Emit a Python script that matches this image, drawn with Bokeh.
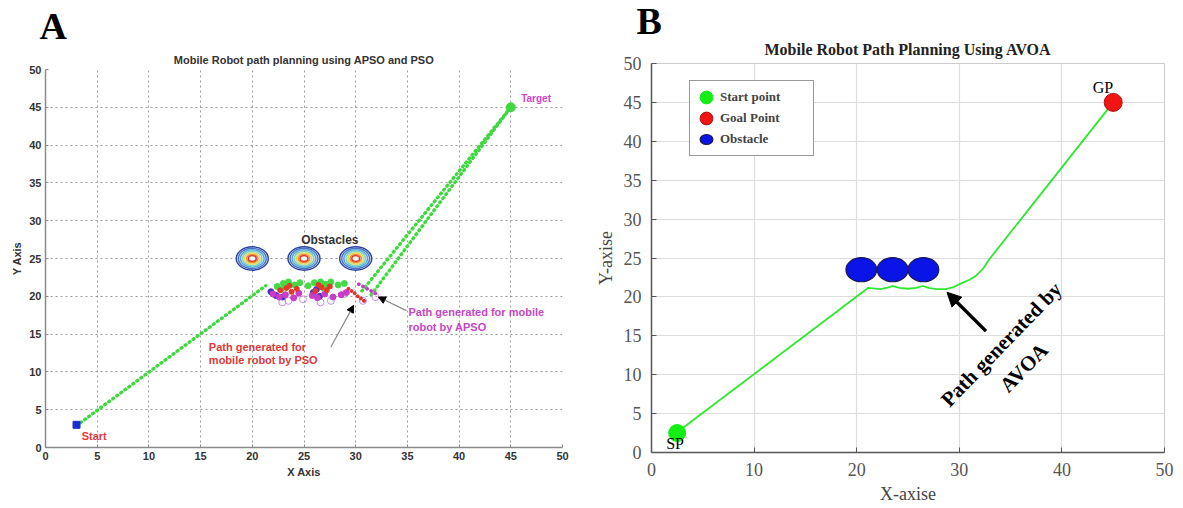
from bokeh.plotting import figure
from bokeh.layouts import row, column
from bokeh.models import Range1d, FixedTicker, Label, Arrow, NormalHead, Legend, LegendItem, Title
from bokeh.embed import file_html
from bokeh.resources import INLINE

FA = "Liberation Sans"
FB = "Liberation Serif"

# ---------------- Panel A data ----------------
a_ticks = [0, 5, 10, 15, 20, 25, 30, 35, 40, 45, 50]
a_start_x, a_start_y = [3.0], [3.0]
a_target_x, a_target_y = [45.0], [45.0]
a_path_low_x = [3.4, 21.3]
a_path_low_y = [3.3, 21.4]
a_path_up1_x = [30.6, 45.0]
a_path_up1_y = [20.7, 45.0]
a_path_up2_x = [31.5, 45.0]
a_path_up2_y = [20.2, 45.0]
a_obst_x = [20.0, 25.0, 30.0]
a_obst_y = [25.0, 25.0, 25.0]
a_contour_r = [1.55, 1.35, 1.15, 0.95, 0.75, 0.55, 0.38]
a_contour_colors = ["#2b3f9e", "#4a6fc4", "#4fa9dc", "#7fd3b8", "#e6d84a", "#f0902e", "#e0321e"]
green_px = [22.4, 23.0, 23.5, 24.1, 24.6, 25.4, 26.0, 26.6, 27.1, 27.6, 28.3, 28.9, 22.8, 26.9]
green_py = [21.3, 21.7, 21.9, 21.5, 21.8, 21.4, 21.8, 21.9, 21.6, 21.9, 21.5, 21.7, 20.9, 21.1]
red_px = [22.7, 23.3, 23.8, 24.3, 26.1, 26.7, 27.2, 23.6, 26.4, 27.5]
red_py = [20.8, 21.1, 20.6, 21.0, 20.7, 21.2, 20.8, 21.4, 21.5, 21.3]
mag_px = [22.0, 22.6, 23.2, 24.0, 24.5, 25.8, 26.3, 27.0, 27.8, 28.6, 29.1]
mag_py = [20.3, 19.9, 20.2, 19.8, 20.4, 20.1, 19.8, 20.3, 19.9, 20.2, 20.5]
blue_px = [21.8, 22.3, 22.9, 25.9, 26.5, 26.2]
blue_py = [20.6, 20.1, 19.9, 20.5, 20.0, 20.9]
lav_px = [23.5, 24.9, 27.6, 28.9, 30.7, 31.9, 22.9, 26.6]
lav_py = [19.4, 19.6, 19.4, 20.3, 19.4, 19.9, 19.2, 19.2]
pso_x = [29.3, 29.6, 29.9, 30.2, 30.5, 30.8]
pso_y = [21.0, 20.7, 20.4, 20.0, 19.7, 19.4]
apso_x = [30.3, 30.7, 31.1, 31.5, 31.9]
apso_y = [21.6, 21.3, 21.0, 20.7, 20.4]

# ---------------- Panel B data ----------------
b_xticks = [0, 10, 20, 30, 40, 50]
b_yticks = [0, 5, 10, 15, 20, 25, 30, 35, 40, 45, 50]
b_path_x = [2.5, 21.1, 21.6, 22.3, 23.0, 23.5, 24.2, 25.0, 25.8, 26.45, 27.0, 27.8, 28.7, 29.5, 30.3, 31.0, 31.6, 32.3, 32.9, 45.0]
b_path_y = [2.6, 21.15, 21.1, 21.0, 21.2, 21.4, 21.15, 21.05, 21.15, 21.4, 21.15, 21.0, 21.0, 21.3, 21.8, 22.2, 22.7, 23.6, 24.8, 45.0]
b_start_x, b_start_y = [2.5], [2.5]
b_goal_x, b_goal_y = [45.0], [45.0]
b_obst_x = [20.45, 23.5, 26.5]
b_obst_y = [23.5, 23.5, 23.5]
b_obst_w = [3.0, 3.0, 3.0]
b_obst_h = [3.1, 3.1, 3.1]

# ================= Panel A =================
pA = figure(width=592, height=506, x_range=Range1d(0, 50), y_range=Range1d(0, 50),
            output_backend="svg", toolbar_location=None, title=None,
            min_border_left=45, min_border_right=30, min_border_top=69, min_border_bottom=59)
pA.outline_line_color = None
pA.background_fill_color = "white"
pA.add_layout(Title(text="Mobile Robot path planning using APSO and PSO", align="center",
                    standoff=7, text_font=FA, text_font_size="11px", text_font_style="bold",
                    text_color="#333333"), "above")
pA.add_layout(Title(text="A", align="left", offset=-6, standoff=3, text_font=FB,
                    text_font_size="38px", text_font_style="bold", text_color="black"), "above")
for ax, lab_t in ((pA.xaxis, "X Axis"), (pA.yaxis, "Y Axis")):
    ax.ticker = FixedTicker(ticks=a_ticks)
    ax.axis_label = lab_t
    ax.axis_label_text_font = FA
    ax.axis_label_text_font_size = "11px"
    ax.axis_label_text_font_style = "bold"
    ax.axis_label_text_color = "#333333"
    ax.axis_label_standoff = 3
    ax.major_label_text_font = FA
    ax.major_label_text_font_size = "11px"
    ax.major_label_text_font_style = "bold"
    ax.major_label_text_color = "#333333"
    ax.major_label_standoff = 4
    ax.axis_line_color = "#8a8a8a"
    ax.axis_line_width = 1.5
    ax.major_tick_in = 3
    ax.major_tick_out = 0
    ax.major_tick_line_color = "#8a8a8a"
    ax.minor_tick_line_color = None
for g in (pA.xgrid, pA.ygrid):
    g.ticker = FixedTicker(ticks=a_ticks)
    g.grid_line_color = "#9a9a9a"
    g.grid_line_dash = "2 3"
    g.grid_line_width = 1

# obstacles (contour rings)
for r, c in zip(a_contour_r, a_contour_colors):
    pA.ellipse(x=a_obst_x, y=a_obst_y, width=2 * r, height=2 * r,
               fill_color="#e6ecf8" if r == a_contour_r[0] else None,
               line_color=c, line_width=1.4)
pA.ellipse(x=a_obst_x, y=a_obst_y, width=0.35, height=0.35, fill_color="white", line_color=None)

# green dotted paths
for xs, ys in ((a_path_low_x, a_path_low_y), (a_path_up1_x, a_path_up1_y), (a_path_up2_x, a_path_up2_y)):
    pA.line(xs, ys, line_color="#3fd83f", line_width=3.4, line_dash="1 4", line_cap="round")

# particle clutter
pA.scatter(lav_px, lav_py, size=7, fill_color=None, line_color="#c890e0", line_width=1)
pA.scatter(blue_px, blue_py, size=6, fill_color="#4b2fc8", line_color="#4b2fc8")
pA.scatter(mag_px, mag_py, size=6, fill_color="#c83cc8", line_color="#c83cc8")
pA.scatter(green_px, green_py, size=6, fill_color="#46d846", line_color="#46d846")
pA.scatter(red_px, red_py, size=5, fill_color="#e23a26", line_color="#e23a26")
pA.scatter(pso_x, pso_y, size=3, fill_color="#e03030", line_color="#e03030")
pA.scatter(apso_x, apso_y, size=3, fill_color="#c040c0", line_color="#c040c0")

# start / target
pA.scatter(a_start_x, a_start_y, marker="square", size=7, fill_color="#1a2fd0", line_color="#1a2fd0")
pA.scatter(a_target_x, a_target_y, size=9, fill_color="#3fd83f", line_color="#3fd83f")

def lab(p, x, y, t, color, font, size, style="bold", align="left", baseline="middle", angle=0):
    p.add_layout(Label(x=x, y=y, text=t, text_color=color, text_font=font, text_font_size=size,
                       text_font_style=style, text_align=align, text_baseline=baseline,
                       angle=angle, angle_units="deg"))

lab(pA, 27.5, 27.4, "Obstacles", "#333333", FA, "12px", align="center")
lab(pA, 3.5, 1.5, "Start", "#e03a3a", FA, "11px")
lab(pA, 46.0, 46.2, "Target", "#cc44cc", FA, "10px")
lab(pA, 15.8, 13.3, "Path generated for", "#d83a3a", FA, "11px")
lab(pA, 15.8, 11.6, "mobile robot by PSO", "#d83a3a", FA, "11px")
lab(pA, 35.1, 17.9, "Path generated for mobile", "#c448c4", FA, "11px")
lab(pA, 35.1, 16.0, "robot by APSO", "#c448c4", FA, "11px")

pA.add_layout(Arrow(end=NormalHead(size=7, fill_color="black", line_color="black"),
                    x_start=27.6, y_start=13.3, x_end=29.8, y_end=18.8,
                    line_color="#8a8a8a", line_width=1.2))
pA.add_layout(Arrow(end=NormalHead(size=7, fill_color="black", line_color="black"),
                    x_start=34.9, y_start=18.1, x_end=32.2, y_end=19.9,
                    line_color="#8a8a8a", line_width=1.2))

# ================= Panel B =================
pB = figure(width=591, height=506, x_range=Range1d(0, 50), y_range=Range1d(0, 50),
            output_backend="svg", toolbar_location=None, title=None,
            min_border_left=54, min_border_right=19, min_border_top=63, min_border_bottom=52)
pB.outline_line_color = "#cccccc"
pB.add_layout(Title(text="Mobile Robot Path Planning Using AVOA", align="center",
                    standoff=11, text_font=FB, text_font_size="16px", text_font_style="bold",
                    text_color="#222222"), "above")
pB.add_layout(Title(text="B", align="left", offset=-15, standoff=-16, text_font=FB,
                    text_font_size="38px", text_font_style="bold", text_color="black"), "above")
pB.xaxis.ticker = FixedTicker(ticks=b_xticks)
pB.yaxis.ticker = FixedTicker(ticks=b_yticks)
pB.xgrid.ticker = FixedTicker(ticks=b_xticks)
pB.ygrid.ticker = FixedTicker(ticks=b_yticks)
for ax, lab_t in ((pB.xaxis, "X-axise"), (pB.yaxis, "Y-axise")):
    ax.axis_label = lab_t
    ax.axis_label_text_font = FB
    ax.axis_label_text_font_size = "18px"
    ax.axis_label_text_font_style = "normal"
    ax.axis_label_text_color = "#444444"
    ax.axis_label_standoff = 5
    ax.major_label_text_font = FB
    ax.major_label_text_font_size = "18px"
    ax.major_label_text_color = "#555555"
    ax.major_label_standoff = 10
    ax.axis_line_color = "#555555"
    ax.axis_line_width = 1.5
    ax.major_tick_in = 5
    ax.major_tick_out = 0
    ax.major_tick_line_color = "#555555"
    ax.minor_tick_line_color = None
for g in (pB.xgrid, pB.ygrid):
    g.grid_line_color = "#dddddd"
    g.grid_line_width = 1.2

pB.line(b_path_x, b_path_y, line_color="#2ee82e", line_width=1.8)
r_obst = pB.ellipse(x=b_obst_x, y=b_obst_y, width=b_obst_w, height=b_obst_h,
                    fill_color="#0a14e6", line_color="#1a1a50", line_width=1.2)
r_start = pB.ellipse(x=b_start_x, y=b_start_y, width=17, height=17, width_units="screen",
                     height_units="screen", fill_color="#14ee14", line_color="#14ee14")
r_goal = pB.ellipse(x=b_goal_x, y=b_goal_y, width=18, height=18, width_units="screen",
                    height_units="screen", fill_color="#f01414", line_color="#b01010", line_width=1)

lab(pB, 2.3, 1.2, "SP", "black", FB, "16px", style="normal", align="center")
lab(pB, 44.0, 46.9, "GP", "black", FB, "16px", style="normal", align="center")
lab(pB, 34.1, 13.9, "Path generated by", "black", FB, "21px", align="center", angle=46)
lab(pB, 36.3, 10.9, "AVOA", "black", FB, "21px", align="center", angle=46)

pB.add_layout(Arrow(end=NormalHead(size=14, fill_color="black", line_color="black"),
                    x_start=32.6, y_start=15.6, x_end=28.8, y_end=20.6,
                    line_color="black", line_width=3.5))

legend = Legend(items=[LegendItem(label="Start point", renderers=[r_start]),
                       LegendItem(label="Goal Point", renderers=[r_goal]),
                       LegendItem(label="Obstacle", renderers=[r_obst])],
                location=(38, 296), glyph_width=16, glyph_height=16, label_height=16,
                label_width=85, spacing=5, padding=8, label_standoff=6,
                label_text_font=FB, label_text_font_size="13px", label_text_font_style="bold",
                border_line_color="#333333", border_line_width=1, background_fill_alpha=1)
pB.add_layout(legend)

layout = row(column(pA), column(pB))
open("out.html", "w").write(file_html(layout, INLINE))
